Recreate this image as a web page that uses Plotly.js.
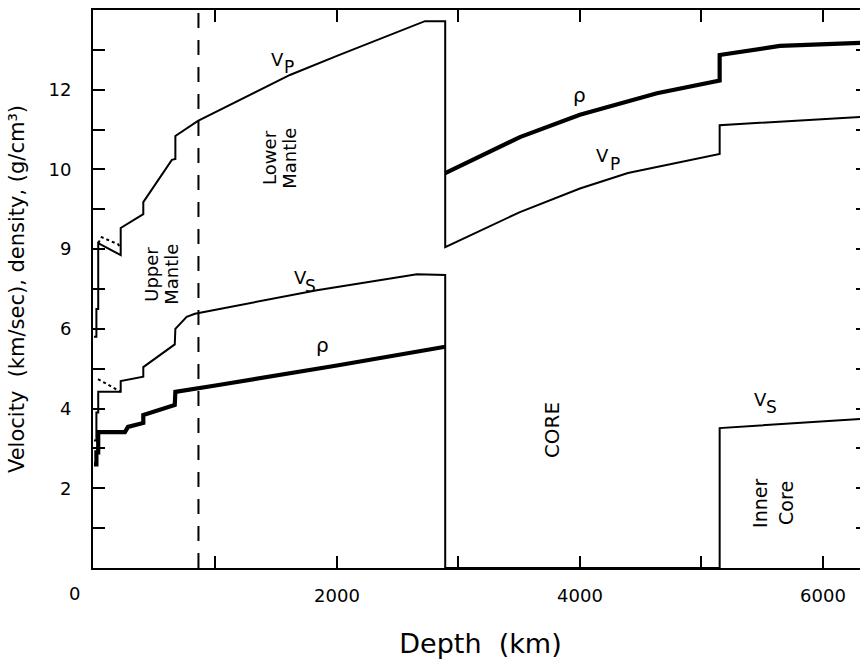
<!DOCTYPE html>
<html>
<head>
<meta charset="utf-8">
<script src="https://cdn.plot.ly/plotly-3.0.1.min.js"></script>
<style>
html, body { margin: 0; padding: 0; overflow: hidden; background: #fff; }
#chart { width: 870px; height: 662px; }
</style>
</head>
<body>
<div id="chart"></div>
<script>
// ---- Data (depth in km, values in km/s or g/cm^3) ----
const depthVp = [0, 20, 20, 35, 35, 220, 220, 406, 406, 641, 670, 670, 856, 1613, 2000, 2724, 2891, 2891, 3506, 4000, 4395, 5150, 5150, 6371];
const vp      = [5.8, 5.8, 6.5, 6.5, 8.15, 7.85, 8.53, 8.88, 9.18, 10.24, 10.26, 10.84, 11.22, 12.37, 12.85, 13.72, 13.72, 8.05, 8.93, 9.52, 9.91, 10.39, 11.11, 11.33];

const depthVs = [0, 20, 20, 35, 35, 220, 220, 406, 406, 665, 670, 763, 831, 1835, 2658, 2891, 2891, 5150, 5150, 6371];
const vs      = [3.2, 3.2, 3.9, 3.9, 4.42, 4.42, 4.69, 4.80, 5.04, 5.61, 6.0, 6.3, 6.38, 6.97, 7.37, 7.35, 0, 0, 3.51, 3.75];

// density: mantle part and core part (the jump at the core-mantle boundary is not drawn in bold)
const depthRhoMantle = [0, 20, 20, 35, 35, 255, 280, 406, 406, 665, 670, 831, 1000, 2000, 2891];
const rhoMantle      = [2.6, 2.6, 2.9, 2.9, 3.41, 3.41, 3.54, 3.64, 3.84, 4.09, 4.42, 4.49, 4.58, 5.08, 5.55];
const depthRhoCore   = [2891, 3506, 4000, 4634, 5150, 5150, 5646, 6371];
const rhoCore        = [9.91, 10.81, 11.37, 11.91, 12.23, 12.87, 13.10, 13.18];

// alternative (dashed) upper-mantle models
const depthVpAlt = [35, 63, 200, 220];
const vpAlt      = [8.15, 8.3, 8.12, 8.0];
const depthVsAlt = [33, 156, 220];
const vsAlt      = [4.74, 4.52, 4.42];

// upper / lower mantle boundary (dashed line)
const mantleBoundary = 860;

// axis ticks (labelled) ; unlabelled ticks every 1000 km / 1 unit
const xTickVals = [2000, 4000, 6000];
const xTickText = ['2000', '4000', '6000'];
const yTickVals = [2, 4, 6, 8, 10, 12];
const yTickText = ['2', '4', '6', '9', '10', '12'];

const FONT = 'DejaVu Sans, Arial, sans-serif';

const traces = [
  {x: depthVp, y: vp, mode: 'lines', name: 'Vp', line: {color: '#000', width: 2}},
  {x: depthVs, y: vs, mode: 'lines', name: 'Vs', line: {color: '#000', width: 2}},
  {x: depthRhoMantle, y: rhoMantle, mode: 'lines', name: 'rho mantle', line: {color: '#000', width: 4.2}},
  {x: depthRhoCore, y: rhoCore, mode: 'lines', name: 'rho core', line: {color: '#000', width: 4.2}},
  {x: depthVpAlt, y: vpAlt, mode: 'lines', name: 'Vp alt', line: {color: '#000', width: 2, dash: '3px,3px'}},
  {x: depthVsAlt, y: vsAlt, mode: 'lines', name: 'Vs alt', line: {color: '#000', width: 2, dash: '3px,3px'}}
];

const ann = (x, y, text, size, angle, xs, ys) => ({
  x: x, y: y, xref: 'x', yref: 'y', text: text, showarrow: false,
  textangle: angle || 0, font: {family: FONT, size: size, color: '#000'},
  xanchor: 'center', yanchor: 'middle', xshift: xs || 0, yshift: ys || 0
});

const layout = {
  width: 870, height: 662,
  margin: {l: 93, r: 2, t: 10, b: 94},
  paper_bgcolor: '#fff', plot_bgcolor: '#fff',
  showlegend: false,
  font: {family: FONT, color: '#000'},
  xaxis: {
    range: [-8, 6371],
    tickmode: 'array', tickvals: xTickVals, ticktext: xTickText,
    ticks: 'inside', ticklen: 12, tickwidth: 2, tickcolor: '#000',
    minor: {ticks: 'inside', ticklen: 12, tickwidth: 2, tickcolor: '#000', tick0: 0, dtick: 1000, showgrid: false},
    showline: true, linewidth: 2, linecolor: '#000', mirror: 'ticks',
    showgrid: false, zeroline: false,
    tickfont: {family: FONT, size: 18, color: '#000'},
    ticklabelstandoff: 10,
    title: {text: 'Depth\u00a0\u00a0(km)', font: {family: FONT, size: 27, color: '#000'}, standoff: 30}
  },
  yaxis: {
    range: [0, 14],
    tickmode: 'array', tickvals: yTickVals, ticktext: yTickText,
    ticks: 'inside', ticklen: 12, tickwidth: 2, tickcolor: '#000',
    minor: {ticks: 'inside', ticklen: 12, tickwidth: 2, tickcolor: '#000', tick0: 0, dtick: 1, showgrid: false},
    showline: true, linewidth: 2, linecolor: '#000', mirror: 'ticks',
    showgrid: false, zeroline: false,
    tickfont: {family: FONT, size: 18, color: '#000'},
    ticklabelstandoff: 16,
    title: {text: 'Velocity\u00a0\u00a0(km/sec),\u00a0density,\u00a0(g/cm\u00b3)', font: {family: FONT, size: 21, color: '#000'}, standoff: 18}
  },
  shapes: [
    {type: 'line', xref: 'x', yref: 'paper', x0: mantleBoundary, x1: mantleBoundary, y0: 0, y1: 1,
     line: {color: '#000', width: 2, dash: '15px,12px'}}
  ],
  annotations: [
    // V_P (mantle)
    ann(1514, 12.77, 'V', 18), ann(1514, 12.77, 'P', 17, 0, 11, -8),
    // V_S (mantle)
    ann(1704, 7.28, 'V', 18), ann(1704, 7.28, 'S', 17, 0, 10, -8),
    // rho (mantle, core)
    ann(1877, 5.59, 'ρ', 20),
    ann(4000, 11.87, 'ρ', 20),
    // V_P (core)
    ann(4189, 10.36, 'V', 18), ann(4189, 10.36, 'P', 17, 0, 12, -9),
    // V_S (inner core)
    ann(5490, 4.24, 'V', 18), ann(5490, 4.24, 'S', 17, 0, 11, -8),
    // region labels
    ann(477, 7.38, 'Upper', 18, -90), ann(642, 7.38, 'Mantle', 18, -90),
    ann(1449, 10.29, 'Lower', 18, -90), ann(1613, 10.29, 'Mantle', 18, -90),
    ann(3770, 3.46, 'CORE', 20, -90),
    ann(5481, 1.63, 'Inner', 19, -90), ann(5695, 1.63, 'Core', 19, -90),
    {x: 0, y: 0, xref: 'x', yref: 'paper', text: '0', showarrow: false,
     xshift: -19, yshift: -25, xanchor: 'center', yanchor: 'middle',
     font: {family: FONT, size: 18, color: '#000'}}
  ]
};

Plotly.newPlot('chart', traces, layout, {displayModeBar: false, staticPlot: true});
</script>
</body>
</html>
